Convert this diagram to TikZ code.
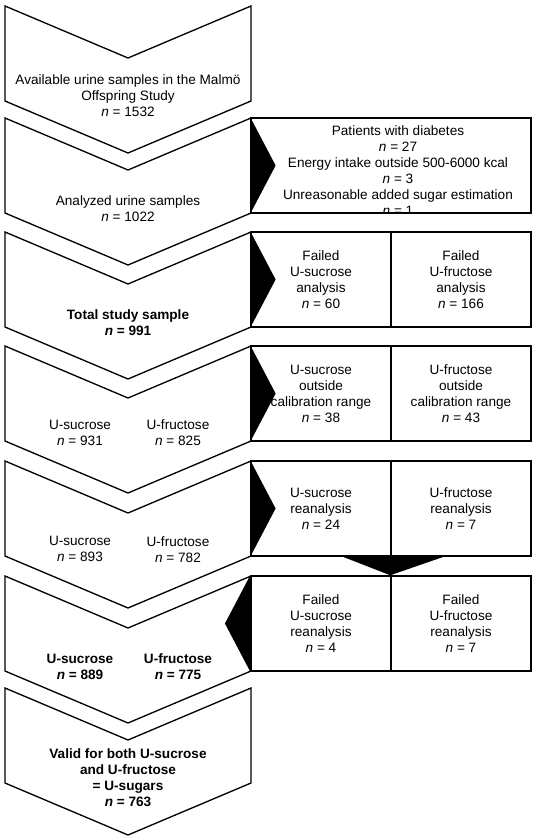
\documentclass[tikz,border=0pt]{standalone}
\usepackage{fontspec}
\setmainfont{Liberation Sans}
\usepackage{xcolor}
\usepackage{tikz}
\makeatletter
\renewcommand\small{%
  \@setfontsize\small{10.2pt}{12pt}%
}
\makeatother

\begin{document}
\begin{tikzpicture}[x=0.75pt, y=-0.75pt, line width=1pt, every node/.style={font=\small},
  txt/.style={align=center, inner sep=0pt},
  cell/.style={draw, line width=1.1pt, align=center, minimum width=105pt, minimum height=71.25pt, inner sep=0pt}]
  \useasboundingbox (0,0) rectangle (536,839);
  % chevrons
  \draw (5,6) -- (128,58) -- (251,6) -- (251,101) -- (128,153) -- (5,101) -- cycle;
  \draw (5,118) -- (128,170) -- (251,118) -- (251,213) -- (128,265) -- (5,213) -- cycle;
  \draw (5,232) -- (128,284) -- (251,232) -- (251,327) -- (128,379) -- (5,327) -- cycle;
  \draw (5,346) -- (128,398) -- (251,346) -- (251,441) -- (128,493) -- (5,441) -- cycle;
  \draw (5,461) -- (128,513) -- (251,461) -- (251,556) -- (128,608) -- (5,556) -- cycle;
  \draw (5,576) -- (128,628) -- (251,576) -- (251,671) -- (128,723) -- (5,671) -- cycle;
  \draw (5,688) -- (128,740) -- (251,688) -- (251,783) -- (128,835) -- (5,783) -- cycle;
  \node[txt] (avail) at (128,96) {Available urine samples in the Malmö\\Offspring Study\\\textit{n} = 1532};
  \node[txt] (analyzed) at (128,209) {Analyzed urine samples\\\textit{n} = 1022};
  \node[txt, font=\small\bfseries] (total) at (128,323) {Total study sample\\\textit{n} = 991};
  \node[txt] (sucA) at (80,433) {U-sucrose\\\textit{n} = 931};
  \node[txt] (fruA) at (178,433) {U-fructose\\\textit{n} = 825};
  \node[txt] (sucB) at (80,549) {U-sucrose\\\textit{n} = 893};
  \node[txt] (fruB) at (178,550) {U-fructose\\\textit{n} = 782};
  \node[txt, font=\small\bfseries] (sucC) at (80,667) {U-sucrose\\\textit{n} = 889};
  \node[txt, font=\small\bfseries] (fruC) at (178,667) {U-fructose\\\textit{n} = 775};
  \node[txt, font=\small\bfseries] (valid) at (128,778) {Valid for both U-sucrose\\and U-fructose\\= U-sugars\\\textit{n} = 763};
  % exclusions
  \node[cell, minimum width=210pt] (excl) at (391,165.5) {};
  \begin{scope}
    \clip (excl.north west) rectangle (excl.south east);
    \node[txt] (excltxt) at (398,171) {Patients with diabetes\\\textit{n} = 27\\Energy intake outside 500-6000 kcal\\\textit{n} = 3\\Unreasonable added sugar estimation\\\textit{n} = 1};
  \end{scope}
  \node[cell] (failsuc) at (321,279.5) {Failed\\U-sucrose\\analysis\\\textit{n} = 60};
  \node[cell] (failfru) at (461,279.5) {Failed\\U-fructose\\analysis\\\textit{n} = 166};
  \node[cell] (calsuc) at (321,393.5) {U-sucrose\\outside\\calibration range\\\textit{n} = 38};
  \node[cell] (calfru) at (461,393.5) {U-fructose\\outside\\calibration range\\\textit{n} = 43};
  \node[cell] (resuc) at (321,508.5) {U-sucrose\\reanalysis\\\textit{n} = 24};
  \node[cell] (refru) at (461,508.5) {U-fructose\\reanalysis\\\textit{n} = 7};
  \node[cell] (refailsuc) at (321,623.5) {Failed\\U-sucrose\\reanalysis\\\textit{n} = 4};
  \node[cell] (refailfru) at (461,623.5) {Failed\\U-fructose\\reanalysis\\\textit{n} = 7};
  % black arrow heads
  \fill (excl.north west) -- (excl.south west) -- ([xshift=19pt]excl.west) -- cycle;
  \fill (failsuc.north west) -- (failsuc.south west) -- ([xshift=19pt]failsuc.west) -- cycle;
  \fill (calsuc.north west) -- (calsuc.south west) -- ([xshift=19pt]calsuc.west) -- cycle;
  \fill (resuc.north west) -- (resuc.south west) -- ([xshift=19pt]resuc.west) -- cycle;
  \fill ([xshift=-36.75pt]resuc.south east) -- ([xshift=39pt]resuc.south east) -- (refailfru.north west) -- cycle;
  \fill (refailsuc.north west) -- (refailsuc.south west) -- ([xshift=-19pt]refailsuc.west) -- cycle;
\end{tikzpicture}
\end{document}
